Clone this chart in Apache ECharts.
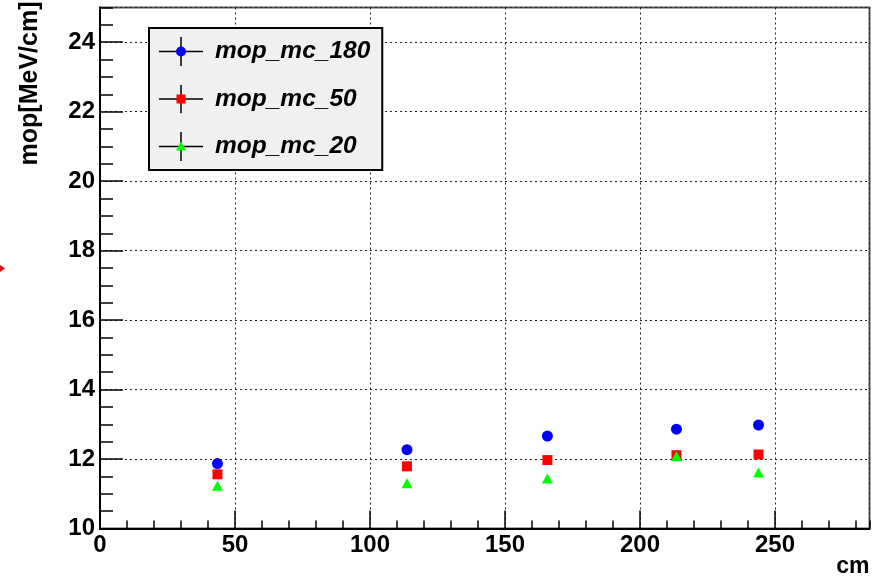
<!DOCTYPE html>
<html>
<head>
<meta charset="utf-8">
<script src="https://cdn.jsdelivr.net/npm/echarts@6/dist/echarts.min.js"></script>
<style>
html,body{margin:0;padding:0;background:#fff;}
#chart{width:880px;height:580px;}
</style>
</head>
<body>
<div id="chart"></div>
<script>
// ---- data ----
const xPositions = [43.5, 113.7, 165.7, 213.5, 243.9];
const mop_mc_180 = [11.87, 12.27, 12.66, 12.86, 12.98];
const mop_mc_50  = [11.56, 11.79, 11.97, 12.11, 12.13];
const mop_mc_20  = [11.23, 11.30, 11.44, 12.08, 11.61];
const seriesNames = ['mop_mc_180', 'mop_mc_50', 'mop_mc_20'];
const seriesColors = ['#0000ff', '#ff0000', '#00ff00'];
const seriesSymbols = ['circle', 'rect', 'triangle'];
const xRange = [0, 285];
const yRange = [10, 25];
const xMajor = 50, xMinor = 10;
const yMajor = 2, yMinor = 0.5;
const xTitle = 'cm';
const yTitle = 'mop[MeV/cm]';

const FONT = '"Liberation Sans", Arial, Helvetica, sans-serif';

function legendIcon(i) {
  const c = seriesColors[i];
  let marker;
  if (i === 0) marker = `<circle cx='22' cy='14.5' r='5' fill='${c}'/>`;
  else if (i === 1) marker = `<rect x='17.5' y='10' width='9' height='9' fill='${c}'/>`;
  else marker = `<polygon points='22,9.5 27,18.5 17,18.5' fill='${c}'/>`;
  const svg = `<svg xmlns='http://www.w3.org/2000/svg' width='44' height='29' viewBox='0 0 44 29'>` +
    `<path d='M0 14.5H44M22 0V29' stroke='#000' stroke-width='1.5'/>` + marker + `</svg>`;
  return 'image://data:image/svg+xml;charset=utf-8,' + encodeURIComponent(svg);
}

const allSeries = [mop_mc_180, mop_mc_50, mop_mc_20];
const series = allSeries.map((vals, i) => ({
  name: seriesNames[i],
  type: 'scatter',
  xAxisIndex: 0,
  yAxisIndex: 0,
  symbol: seriesSymbols[i],
  symbolSize: i === 1 ? 10 : (i === 2 ? [11, 10] : 11),
  itemStyle: { color: seriesColors[i], opacity: 1 },
  data: xPositions.map((x, k) => [x, vals[k]])
}));

const chart = echarts.init(document.getElementById('chart'), null, { renderer: 'canvas' });
chart.setOption({
  animation: false,
  backgroundColor: '#ffffff',
  textStyle: { fontFamily: FONT },
  grid: {
    left: 100, top: 7.5, width: 769.5, height: 521,
    show: true, borderColor: '#555', borderWidth: 2, backgroundColor: 'transparent',
    containLabel: false, outerBoundsMode: 'none'
  },
  legend: {
    orient: 'vertical',
    left: 149, top: 28,
    padding: [9, 12, 9, 10],
    itemWidth: 44, itemHeight: 29, itemGap: 18.5,
    backgroundColor: '#f0f0f0',
    borderColor: '#000', borderWidth: 2, borderRadius: 0,
    selectedMode: false,
    data: seriesNames.map((n, i) => ({ name: n, icon: legendIcon(i) })),
    textStyle: {
      fontFamily: FONT, fontSize: 24.5, fontWeight: 'bold', fontStyle: 'italic',
      color: '#000', padding: [0, 0, 0, 7]
    }
  },
  xAxis: [
    {
      type: 'value', position: 'bottom', min: xRange[0], max: xRange[1], interval: xMajor,
      name: xTitle, nameLocation: 'end', nameGap: 0, nameMoveOverlap: false,
      nameTextStyle: { fontFamily: FONT, fontSize: 23, fontWeight: 'bold', color: '#000',
        align: 'right', verticalAlign: 'top', padding: [27, 0, 0, 0] },
      axisLine: { show: true, onZero: false, lineStyle: { color: '#000', width: 2 } },
      axisTick: { show: true, inside: true, length: 18, lineStyle: { color: '#000', width: 1.5 } },
      axisLabel: { show: true, margin: 5, showMaxLabel: false, fontFamily: FONT,
        fontSize: 24, fontWeight: 'bold', color: '#000' },
      splitLine: { show: true, lineStyle: { color: '#222', width: 1, type: [2, 3] } }
    },
    {
      type: 'value', position: 'bottom', min: xRange[0], max: xRange[1], interval: xMinor,
      axisLine: { show: false, onZero: false },
      axisTick: { show: true, inside: true, length: 8, lineStyle: { color: '#000', width: 1.5 } },
      axisLabel: { show: false },
      splitLine: { show: false }
    }
  ],
  yAxis: [
    {
      type: 'value', position: 'left', min: yRange[0], max: yRange[1], interval: yMajor,
      name: yTitle, nameLocation: 'end', nameGap: 6, nameRotate: 90, nameMoveOverlap: false,
      nameTextStyle: { fontFamily: FONT, fontSize: 25, fontWeight: 'bold', color: '#000',
        align: 'right', verticalAlign: 'bottom', padding: [0, 0, 57, 0] },
      axisLine: { show: true, onZero: false, lineStyle: { color: '#000', width: 2 } },
      axisTick: { show: true, inside: true, length: 23, lineStyle: { color: '#000', width: 1.5 } },
      axisLabel: { show: true, margin: 5, showMaxLabel: false, fontFamily: FONT,
        fontSize: 24, fontWeight: 'bold', color: '#000' },
      splitLine: { show: true, lineStyle: { color: '#222', width: 1, type: [2, 3] } }
    },
    {
      type: 'value', position: 'left', min: yRange[0], max: yRange[1], interval: yMinor,
      axisLine: { show: false, onZero: false },
      axisTick: { show: true, inside: true, length: 13, lineStyle: { color: '#000', width: 1.5 } },
      axisLabel: { show: false },
      splitLine: { show: false }
    }
  ],
  graphic: [
    { type: 'polygon', left: 0, top: 265, shape: { points: [[0, 0], [5, 3.5], [0, 7]] },
      style: { fill: '#ff0000' }, silent: true }
  ],
  series: series
});
</script>
</body>
</html>
